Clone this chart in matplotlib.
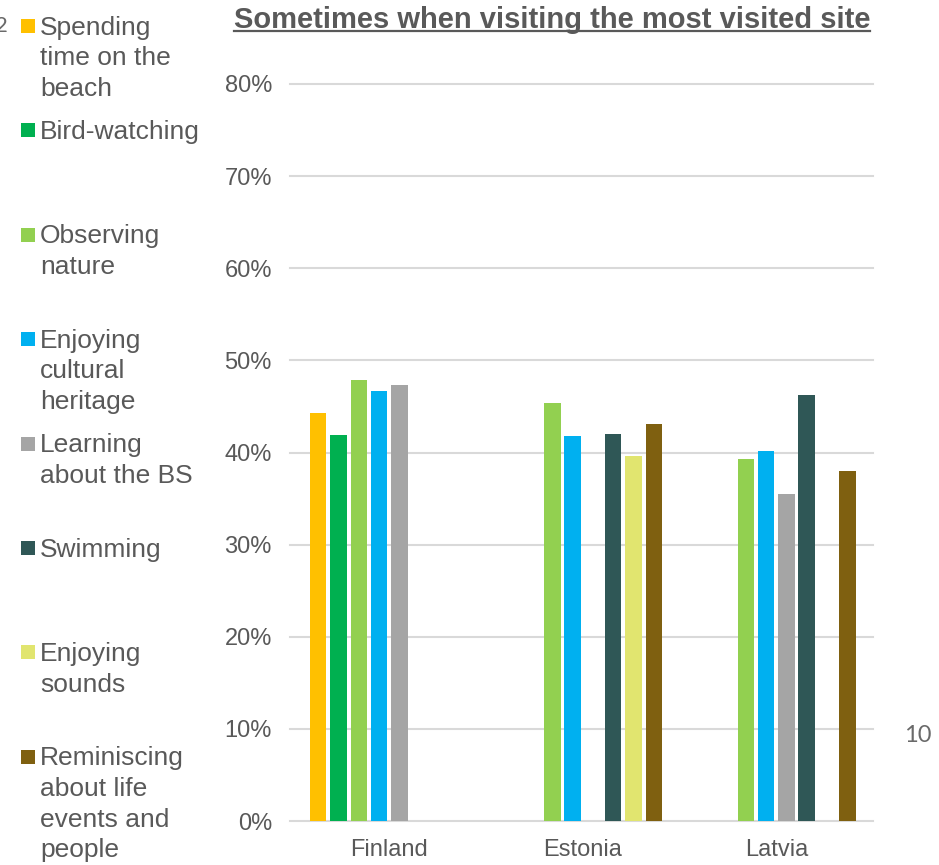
import numpy as np
import matplotlib
matplotlib.use("Agg")
import matplotlib.pyplot as plt
from matplotlib.patches import Rectangle
from matplotlib.lines import Line2D

plt.rcParams['font.family'] = ['Liberation Sans', 'DejaVu Sans']

title = "Sometimes when visiting the most visited site"
countries = ["Finland", "Estonia", "Latvia"]
activities = [
    "Spending\ntime on the\nbeach",
    "Bird-watching",
    "Observing\nnature",
    "Enjoying\ncultural\nheritage",
    "Learning\nabout the BS",
    "Swimming",
    "Enjoying\nsounds",
    "Reminiscing\nabout life\nevents and\npeople",
]
colors = ["#FFC000", "#00B050", "#92D050", "#00B0F0",
          "#A5A5A5", "#2F5756", "#E1E56F", "#7F6010"]

# share per activity, one value per country (nan = not reported)
nan = np.nan
spending_beach = [0.443, nan, nan]
bird_watching = [0.419, nan, nan]
observing_nature = [0.479, 0.454, 0.393]
cultural_heritage = [0.467, 0.418, 0.402]
learning_bs = [0.473, nan, 0.355]
swimming = [nan, 0.420, 0.462]
enjoying_sounds = [nan, 0.396, nan]
reminiscing = [nan, 0.431, 0.380]
series = [spending_beach, bird_watching, observing_nature, cultural_heritage,
          learning_bs, swimming, enjoying_sounds, reminiscing]

yticks = [0.0, 0.1, 0.2, 0.3, 0.4, 0.5, 0.6, 0.7, 0.8]
ytick_labels = ["0%", "10%", "20%", "30%", "40%", "50%", "60%", "70%", "80%"]

W, H = 939, 865
fig = plt.figure(figsize=(W / 100, H / 100), dpi=100)
ax = fig.add_axes([290 / W, 1 - 821 / H, (873 - 290) / W, (821 - 84) / H])

text_grey = "#595959"
n = len(series)
slot = 0.84 / n
x = np.arange(len(countries))
for i, (vals, col) in enumerate(zip(series, colors)):
    ax.bar(x + (i - (n - 1) / 2) * slot, vals, width=slot * 0.81,
           color=col, zorder=3)

ax.set_xlim(-0.513, len(countries) - 0.5)
ax.set_ylim(0, 0.8)
ax.set_yticks(yticks)
ax.set_yticklabels(ytick_labels)
ax.set_xticks(x)
ax.set_xticklabels(countries)
for gy in yticks:
    ax.axhline(gy, color="#D9D9D9", lw=1.5, zorder=1, clip_on=False)
for s in ax.spines.values():
    s.set_visible(False)
ax.tick_params(axis="y", length=0, pad=13, labelsize=17, labelcolor=text_grey)
ax.tick_params(axis="x", length=0, pad=13, labelsize=17, labelcolor=text_grey)

# title with underline
t = fig.text(552 / W, 1 - 28 / H, title, ha="center", va="baseline",
             fontsize=21, fontweight="bold", color=text_grey)
fig.canvas.draw()
bb = t.get_window_extent()
fig.add_artist(Line2D([bb.x0, bb.x1], [H - 31, H - 31], transform=None,
                      color=text_grey, lw=1.6))

# legend on the left, one text per wrapped line
first_center = 26
step = 104.4
line_gap = 30.6
for i, (lab, col) in enumerate(zip(activities, colors)):
    cy = first_center + i * step
    fig.add_artist(Rectangle((21, H - cy - 7), 14, 14, transform=None,
                             facecolor=col, edgecolor="none"))
    for k, line in enumerate(lab.split("\n")):
        fig.text(40 / W, 1 - (cy + 8.5 + k * line_gap) / H, line,
                 ha="left", va="baseline", fontsize=19, color=text_grey)

# page numbers
fig.text(932 / W, 1 - 735 / H, "10", ha="right", va="center",
         fontsize=17, color="#6A6A6A", family=["Lato", "DejaVu Sans"])
fig.text(8 / W, 1 - 26 / H, "2", ha="right", va="center",
         fontsize=16, color="#6A6A6A", family=["Lato", "DejaVu Sans"])

fig.savefig("out.png", dpi=100)
